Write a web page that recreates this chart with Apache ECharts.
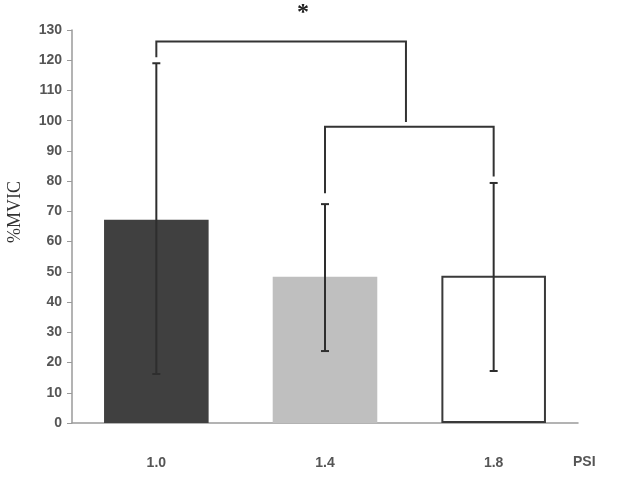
<!DOCTYPE html>
<html>
<head>
<meta charset="utf-8">
<script src="https://cdn.jsdelivr.net/npm/echarts@6/dist/echarts.min.js"></script>
<style>
  html, body { margin: 0; padding: 0; background: #fff; }
  #chart { width: 644px; height: 484px; }
</style>
</head>
<body>
<div id="chart"></div>
<script>
// values
const categories = ['1.0', '1.4', '1.8'];
const means = [67.2, 48.4, 48.7];
const errLow = [16.2, 23.8, 17.2];
const errHigh = [119, 72.4, 79.4];

// significance brackets: [xLeft, xRight, leftLegEnd, rightLegEnd, top] (x in category index units)
const brackets = [
    [0, 1.48, 121, 99.6, 126.2],
    [1, 2, 76, 81.5, 98]
];
const starPos = [0.87, 135.6];

const barStyles = [
    { color: '#404040', borderColor: '#404040', borderWidth: 0 },
    { color: '#bfbfbf', borderColor: '#bfbfbf', borderWidth: 0 },
    { color: '#ffffff', borderColor: '#3a3a3a', borderWidth: 2 }
];

const labelFont = { fontFamily: 'Liberation Sans', fontWeight: 'bold', fontSize: 14, color: '#555' };

let chart = echarts.init(document.getElementById('chart'));

chart.setOption({
    animation: false,
    grid: { left: 72, right: 66, top: 30, bottom: 61 },
    xAxis: [
        {
            type: 'category',
            data: categories,
            axisLine: { lineStyle: { color: '#9a9a9a', width: 1.5 } },
            axisTick: { show: false },
            axisLabel: Object.assign({ margin: 33 }, labelFont)
        },
        { type: 'value', min: -0.5, max: 2.5, show: false }
    ],
    yAxis: {
        type: 'value',
        min: 0,
        max: 130,
        interval: 10,
        axisLine: { show: true, onZero: false, lineStyle: { color: '#9a9a9a', width: 1.5 } },
        axisTick: { show: true, length: 5, lineStyle: { color: '#9a9a9a' } },
        splitLine: { show: false },
        axisLabel: Object.assign({ margin: 10 }, labelFont)
    },
    graphic: [
        {
            type: 'text',
            left: 573,
            top: 455,
            style: { text: 'PSI', font: 'bold 14px "Liberation Sans"', fill: '#555' }
        },
        {
            type: 'text',
            x: 15,
            y: 212,
            rotation: Math.PI / 2,
            style: {
                text: '%MVIC',
                font: '18px "Liberation Serif"',
                fill: '#333',
                align: 'center',
                verticalAlign: 'middle'
            }
        }
    ],
    series: [
        {
            type: 'bar',
            barWidth: '62%',
            data: means.map((v, i) => ({ value: v, itemStyle: barStyles[i] }))
        },
        {
            type: 'custom',
            data: categories.map((c, i) => [i, errLow[i], errHigh[i]]),
            z: 5,
            renderItem: function (params, api) {
                const lo = api.coord([api.value(0), api.value(1)]);
                const hi = api.coord([api.value(0), api.value(2)]);
                const cap = 4;
                const style = { stroke: '#2e2e2e', lineWidth: 2 };
                return {
                    type: 'group',
                    children: [
                        { type: 'line', shape: { x1: lo[0], y1: lo[1], x2: hi[0], y2: hi[1] }, style: style },
                        { type: 'line', shape: { x1: lo[0] - cap, y1: lo[1], x2: lo[0] + cap, y2: lo[1] }, style: style },
                        { type: 'line', shape: { x1: hi[0] - cap, y1: hi[1], x2: hi[0] + cap, y2: hi[1] }, style: style }
                    ]
                };
            }
        },
        {
            type: 'custom',
            xAxisIndex: 1,
            data: brackets,
            z: 6,
            clip: false,
            renderItem: function (params, api) {
                const a = api.coord([api.value(0), api.value(2)]);
                const b = api.coord([api.value(0), api.value(4)]);
                const c = api.coord([api.value(1), api.value(4)]);
                const d = api.coord([api.value(1), api.value(3)]);
                return {
                    type: 'polyline',
                    shape: { points: [a, b, c, d] },
                    style: { stroke: '#333', lineWidth: 2, fill: null }
                };
            }
        },
        {
            type: 'custom',
            xAxisIndex: 1,
            data: [starPos],
            clip: false,
            renderItem: function (params, api) {
                const p = api.coord([api.value(0), api.value(1)]);
                return {
                    type: 'text',
                    x: p[0],
                    y: p[1],
                    style: {
                        text: '*',
                        font: 'bold 24px "Liberation Serif"',
                        fill: '#222',
                        align: 'center',
                        verticalAlign: 'middle'
                    }
                };
            }
        }
    ]
});
</script>
</body>
</html>
